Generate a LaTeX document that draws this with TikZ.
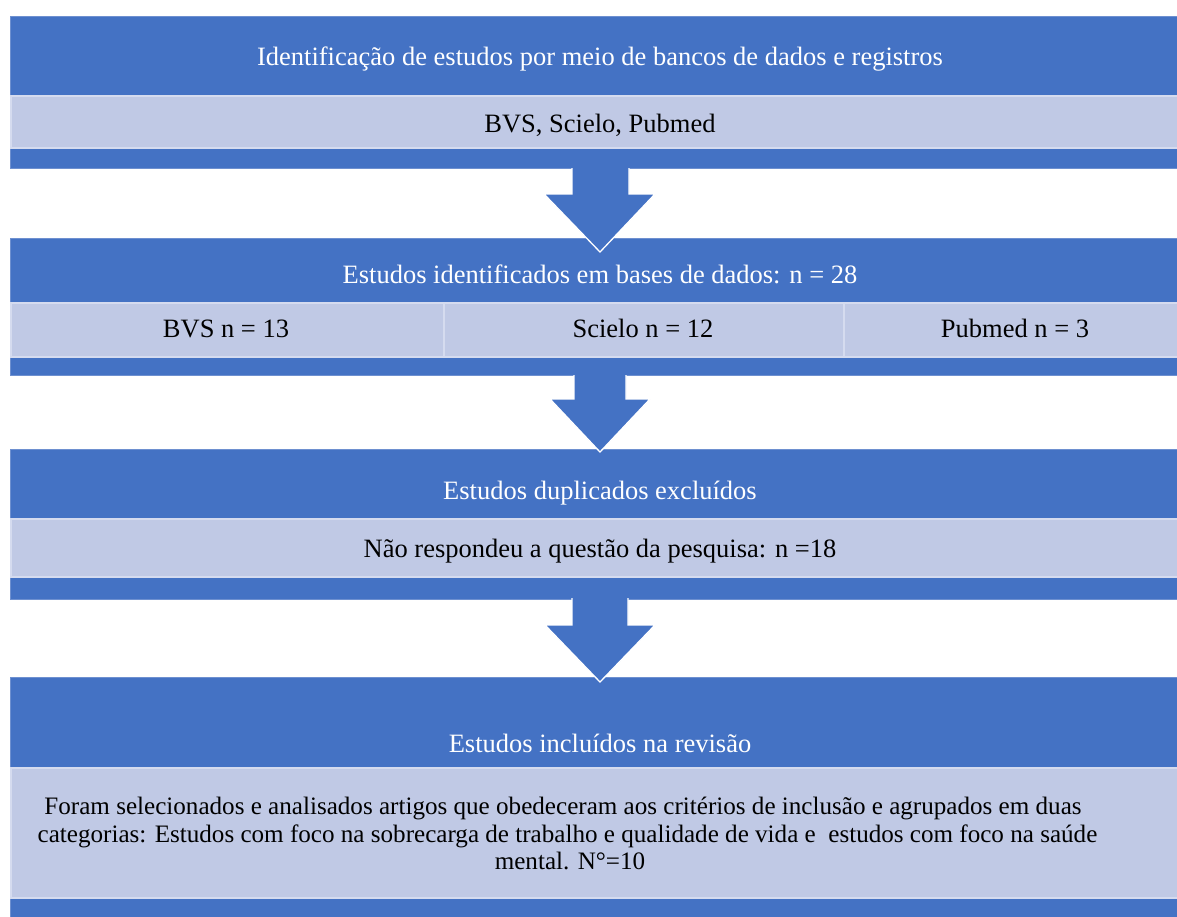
\documentclass[tikz,border=0pt]{standalone}
\usepackage{fontspec}
\setmainfont{Liberation Serif}
\definecolor{hdr}{HTML}{4472C4}
\definecolor{band}{HTML}{C0C9E5}
\definecolor{bandline}{HTML}{D5DBEF}
\definecolor{hdrline}{HTML}{6E90D0}
\tikzset{
  blk/.style={fill=hdr, draw=hdrline, line width=0.8pt, anchor=north west, inner sep=0pt, minimum width=1180pt},
  bandbox/.style={fill=band, draw=bandline, line width=1.5pt, anchor=north west, inner sep=0pt},
  ttl/.style={text=white, anchor=base, inner sep=0pt, font=\fontsize{26.5}{30}\selectfont},
  txt/.style={text=black, anchor=base, inner sep=0pt, font=\fontsize{26.5}{30}\selectfont},
  ptxt/.style={text=black, anchor=base, inner sep=0pt, font=\fontsize{25.1}{28}\selectfont},
  arrowfill/.style={fill=hdr},
  arrowline/.style={draw=white, line width=1.3pt, line join=miter},
}
\begin{document}
\begin{tikzpicture}[x=1pt,y=-1pt]
\useasboundingbox (0,0) rectangle (1177,916);
\fill[white] (0,0) rectangle (1177,916);

% Block 1
\node[blk, minimum height=152pt] (b1) at (10,16) {};
\node[bandbox, minimum width=1180pt, minimum height=52pt] (s1) at (10,95) {};
\node[ttl] (t1) at (600,65) {Identificação de estudos por meio de bancos de dados e registros};
\node[txt] (x1) at (600,132) {BVS, Scielo, Pubmed};

% Block 2
\node[blk, minimum height=137pt] (b2) at (10,238) {};
\node[bandbox, minimum width=433pt, minimum height=54pt] (c1) at (10,302) {};
\node[bandbox, minimum width=400pt, minimum height=54pt] (c2) at (443,302) {};
\node[bandbox, minimum width=347pt, minimum height=54pt] (c3) at (843,302) {};
\node[ttl] (t2) at (600,283) {Estudos identificados em bases de dados: n = 28};
\node[txt] (x21) at (226,337) {BVS n = 13};
\node[txt] (x22) at (643,337) {Scielo n = 12};
\node[txt] (x23) at (1015,337) {Pubmed n = 3};

% Block 3
\node[blk, minimum height=150pt] (b3) at (10,449) {};
\node[bandbox, minimum width=1180pt, minimum height=58pt] (s3) at (10,518) {};
\node[ttl] (t3) at (600,499) {Estudos duplicados excluídos};
\node[txt] (x3) at (600,557) {Não respondeu a questão da pesquisa: n =18};

% Block 4
\node[blk, minimum height=260pt] (b4) at (10,677) {};
\node[bandbox, minimum width=1180pt, minimum height=130pt] (s4) at (10,767) {};
\node[ttl] (t4) at (600,752) {Estudos incluídos na revisão};
\node[ptxt] (p1) at (563,814) {Foram selecionados e analisados artigos que obedeceram aos critérios de inclusão e agrupados em duas};
\node[ptxt] (p2) at (567.5,842) {categorias: Estudos com foco na sobrecarga de trabalho e qualidade de vida e~ estudos com foco na saúde};
\node[ptxt] (p3) at (570,869) {mental. N°=10};

% Arrows
\coordinate (a1l) at (572,168); \coordinate (a1r) at (629,168);
\fill[arrowfill] (a1l) -- (572,194) -- (544,194) -- (600,252) -- (655,194) -- (629,194) -- (a1r) -- cycle;
\draw[arrowline] (a1l) -- (572,194) -- (544,194) -- (600,252) -- (655,194) -- (629,194) -- (a1r);

\coordinate (a2l) at (574,375); \coordinate (a2r) at (626,375);
\fill[arrowfill] (a2l) -- (574,399) -- (550,399) -- (600,452) -- (650,399) -- (626,399) -- (a2r) -- cycle;
\draw[arrowline] (a2l) -- (574,399) -- (550,399) -- (600,452) -- (650,399) -- (626,399) -- (a2r);

\coordinate (a3l) at (572,598); \coordinate (a3r) at (628,598);
\fill[arrowfill] (a3l) -- (572,625) -- (545,625) -- (600,682) -- (655,625) -- (628,625) -- (a3r) -- cycle;
\draw[arrowline] (a3l) -- (572,625) -- (545,625) -- (600,682) -- (655,625) -- (628,625) -- (a3r);
\end{tikzpicture}
\end{document}
